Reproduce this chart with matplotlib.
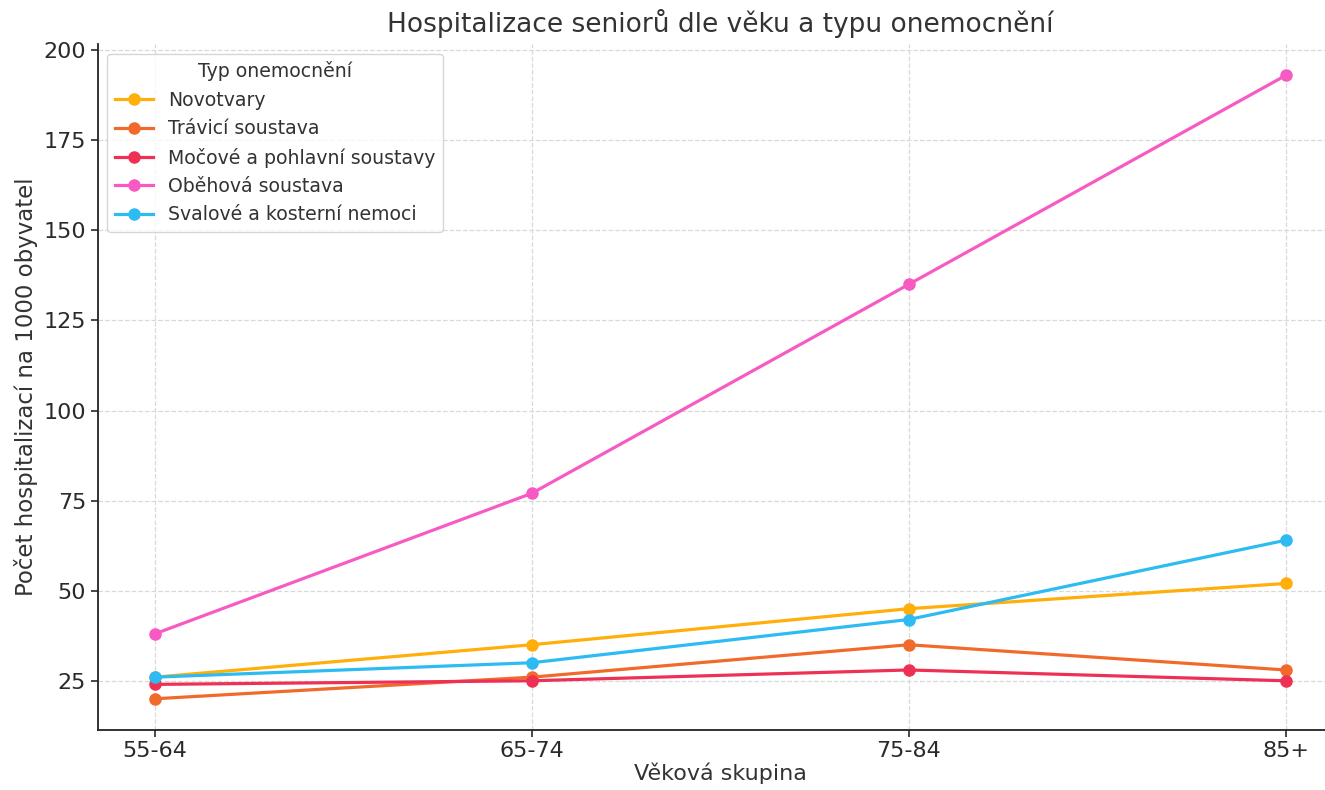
import matplotlib
matplotlib.use("Agg")
import matplotlib.pyplot as plt

age_groups = ["55-64", "65-74", "75-84", "85+"]
series_names = ["Novotvary", "Trávicí soustava", "Močové a pohlavní soustavy",
                "Oběhová soustava", "Svalové a kosterní nemoci"]
novotvary = [26, 35, 45, 52]
travici = [20, 26, 35, 28]
mocove = [24, 25, 28, 25]
obehova = [38, 77, 135, 193]
svalove = [26, 30, 42, 64]
colors = ["#FFAE0A", "#F26A2B", "#EF3055", "#F75BC3", "#2DBBF4"]

plt.rcParams['font.family'] = ['DejaVu Sans']
fig = plt.figure(figsize=(13.25, 7.9), dpi=100)
ax = fig.add_axes([0.074, 0.076, 0.939, 0.868])

x = list(range(len(age_groups)))
for name, vals, c in zip(series_names, [novotvary, travici, mocove, obehova, svalove], colors):
    ax.plot(x, vals, marker='o', color=c, lw=2.3, ms=8, label=name)

ax.set_xticks(x)
ax.set_xticklabels(age_groups)
ax.set_yticks([25, 50, 75, 100, 125, 150, 175, 200])
ax.tick_params(labelsize=16, colors='#2a2a2a', length=5, width=1.2)
ax.tick_params(axis='x', pad=3)
ax.grid(True, linestyle='--', color='#d9d9d9', lw=0.9)
for s in ['top', 'right']:
    ax.spines[s].set_visible(False)
for s in ['left', 'bottom']:
    ax.spines[s].set_linewidth(1.3)
    ax.spines[s].set_color('#222222')

ax.set_title("Hospitalizace seniorů dle věku a typu onemocnění", fontsize=19, color='#333333', pad=9)
ax.set_xlabel("Věková skupina", fontsize=16, color='#333333', labelpad=1)
ax.set_ylabel("Počet hospitalizací na 1000 obyvatel", fontsize=16.5, color='#333333')
leg = ax.legend(title="Typ onemocnění", fontsize=13.6, title_fontsize=13.6, loc='upper left',
                frameon=True, borderaxespad=0.5)
for t in leg.get_texts():
    t.set_color('#333333')
leg.get_title().set_color('#333333')

fig.savefig("out.png", dpi=100)
